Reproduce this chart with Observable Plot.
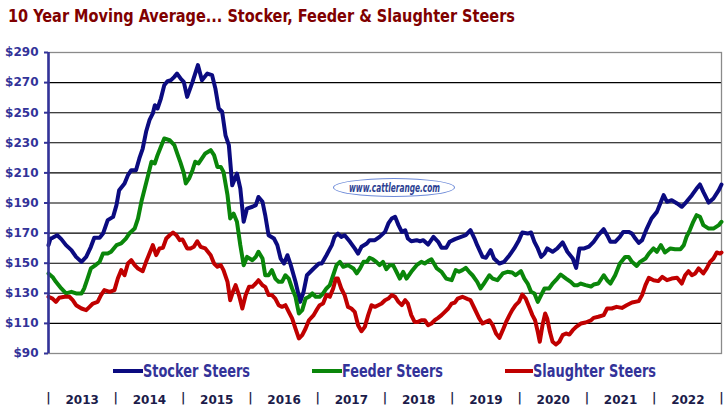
<!DOCTYPE html>
<html><head><meta charset="utf-8">
<script src="https://cdn.jsdelivr.net/npm/d3@7"></script>
<script src="https://cdn.jsdelivr.net/npm/@observablehq/plot@0.6"></script>
<style>
body{margin:0;background:#fff;}
#wrap{position:relative;width:727px;height:413px;overflow:hidden;background:#fff;}
#chart{position:absolute;left:0;top:0;}
.narrow{font-family:"Liberation Sans Narrow","Arial Narrow","DejaVu Sans Condensed","Liberation Sans",sans-serif;font-weight:bold;white-space:nowrap;line-height:1;}
#title{position:absolute;left:8px;top:8px;font-size:17px;color:#800000;transform-origin:left center;}
.legtxt{position:absolute;top:362px;font-size:18px;color:#333399;transform-origin:left center;}
.sw{position:absolute;top:369px;height:4px;}
#logo{position:absolute;left:333px;top:178px;width:120px;height:17px;border:1.5px solid #6d8ad8;border-radius:50%;background:#fff;}
#logotxt{position:absolute;top:181px;font-size:13px;font-style:italic;color:#2c3f92;transform-origin:left center;}
</style>
</head><body>
<div id="wrap">
  <div id="chart"></div>
  <div id="title" class="narrow">10 Year Moving Average... Stocker, Feeder &amp; Slaughter Steers</div>
  <div id="logo"></div>
  <div id="logotxt" class="narrow">www.cattlerange.com</div>
  <div id="legend"></div>
</div>
<script>
const seriesNames = ["Stocker Steers", "Feeder Steers", "Slaughter Steers"];
const seriesColors = ["#0b0b80", "#0a860a", "#c00000"];
const yTicks = [90, 110, 130, 150, 170, 190, 210, 230, 250, 270, 290];
const yearLabels = [2013, 2014, 2015, 2016, 2017, 2018, 2019, 2020, 2021, 2022];
const yearBounds = [2013, 2014, 2015, 2016, 2017, 2018, 2019, 2020, 2021, 2022, 2023];

const stocker = [[2013.00,162],[2013.03,166.4],[2013.06,166.9],[2013.13,168.6],[2013.19,166],[2013.26,162],[2013.34,158.7],[2013.41,154.2],[2013.49,150.9],[2013.56,154.2],[2013.63,160.9],[2013.68,166.9],[2013.76,166.9],[2013.81,169.7],[2013.88,178.6],[2013.96,180.8],[2014.01,188.6],[2014.05,198.5],[2014.13,203],[2014.18,208.5],[2014.23,211.8],[2014.30,211.8],[2014.35,219.6],[2014.40,226.2],[2014.45,237.3],[2014.50,245],[2014.55,249.5],[2014.58,255],[2014.62,252.8],[2014.67,259.4],[2014.72,268.3],[2014.77,271],[2014.82,271.6],[2014.87,273.8],[2014.91,276],[2014.97,272.3],[2015.01,270.5],[2015.06,260.5],[2015.14,270.5],[2015.22,281.6],[2015.28,271.6],[2015.36,276],[2015.43,275],[2015.48,266],[2015.53,252.8],[2015.58,250.6],[2015.63,235],[2015.68,228.4],[2015.73,201.8],[2015.75,204],[2015.80,209.6],[2015.85,199.6],[2015.90,177.5],[2015.95,186.3],[2016.03,187.5],[2016.08,188.6],[2016.12,194],[2016.18,190.8],[2016.22,182],[2016.27,168.6],[2016.35,166.4],[2016.40,162],[2016.45,153],[2016.50,149.8],[2016.55,155.3],[2016.60,148.7],[2016.67,137.7],[2016.74,124.3],[2016.79,131],[2016.84,142],[2016.94,146.5],[2017.02,149.8],[2017.06,149.8],[2017.13,155.3],[2017.21,162],[2017.25,167.5],[2017.30,169.7],[2017.35,167.5],[2017.40,168.6],[2017.48,164.2],[2017.55,159.8],[2017.60,156.4],[2017.65,160.9],[2017.73,163.1],[2017.77,165.3],[2017.85,165.3],[2017.92,167.5],[2018.00,170.8],[2018.05,176.4],[2018.10,179.7],[2018.15,180.8],[2018.20,175.3],[2018.25,170.8],[2018.30,171.9],[2018.34,166.4],[2018.39,164.6],[2018.47,165.3],[2018.52,164.6],[2018.57,165.3],[2018.64,162.4],[2018.72,167.5],[2018.79,164.2],[2018.84,160.2],[2018.91,160.2],[2018.96,164.2],[2019.04,166],[2019.13,167.5],[2019.20,168.6],[2019.27,171.9],[2019.33,166.4],[2019.37,162],[2019.45,154.2],[2019.50,153.6],[2019.57,158.7],[2019.62,153.1],[2019.70,149.8],[2019.77,150.9],[2019.85,155.3],[2019.92,159.8],[2019.99,165.3],[2020.04,170.4],[2020.12,169.7],[2020.17,170.4],[2020.22,164.2],[2020.27,159.8],[2020.32,154.2],[2020.37,156.4],[2020.41,159.8],[2020.49,157.6],[2020.56,159.8],[2020.64,163.8],[2020.71,157.6],[2020.79,153.1],[2020.84,146.9],[2020.89,159.8],[2020.96,159.8],[2021.03,161],[2021.10,164.2],[2021.17,168.6],[2021.25,172.6],[2021.30,168.6],[2021.35,164.2],[2021.42,164.2],[2021.49,167.5],[2021.54,170.8],[2021.62,170.8],[2021.67,169.7],[2021.72,166.4],[2021.77,163.5],[2021.82,165.3],[2021.89,173],[2021.96,179.7],[2022.04,184.1],[2022.09,189.7],[2022.14,195.2],[2022.19,190.8],[2022.26,191.9],[2022.34,189.7],[2022.41,187.5],[2022.48,190.8],[2022.56,195.2],[2022.63,199.6],[2022.68,202.3],[2022.73,197.4],[2022.81,190.3],[2022.88,193],[2022.96,198.5],[2023.00,202.3]];

const feeder = [[2013.00,143.2],[2013.06,140.9],[2013.11,137.6],[2013.19,133.2],[2013.26,129.9],[2013.34,131],[2013.41,129.9],[2013.49,129.9],[2013.53,133.2],[2013.58,139.8],[2013.63,146.5],[2013.71,149.1],[2013.76,150.9],[2013.81,156.4],[2013.88,156.4],[2013.93,157.6],[2014.01,162],[2014.08,163.1],[2014.15,166.4],[2014.20,169.7],[2014.28,173],[2014.33,179.7],[2014.38,190.8],[2014.43,199.6],[2014.48,208.5],[2014.53,217.4],[2014.58,216.3],[2014.62,221.8],[2014.67,227.3],[2014.72,232.9],[2014.80,231.7],[2014.87,228.4],[2014.92,222],[2014.96,217],[2015.01,210],[2015.04,203],[2015.09,206.3],[2015.14,211.8],[2015.18,217.4],[2015.23,216.3],[2015.28,219.6],[2015.33,222.9],[2015.41,225.1],[2015.46,221.8],[2015.51,214],[2015.56,214],[2015.60,210.7],[2015.66,195.2],[2015.70,179.7],[2015.75,183],[2015.80,177.5],[2015.85,162],[2015.90,148.7],[2015.95,154.2],[2016.03,152],[2016.08,154.2],[2016.12,157.6],[2016.18,153.1],[2016.22,142],[2016.27,142],[2016.32,145.4],[2016.37,139.8],[2016.42,137.6],[2016.47,137.6],[2016.52,142],[2016.57,139.8],[2016.62,133.2],[2016.67,127.7],[2016.72,116.6],[2016.77,118.8],[2016.82,126.5],[2016.87,127.7],[2016.92,129.9],[2016.97,127.7],[2017.03,127.7],[2017.08,129.9],[2017.13,133.2],[2017.18,135.4],[2017.23,142],[2017.28,148.7],[2017.33,150.9],[2017.38,147.6],[2017.45,148.7],[2017.53,146.5],[2017.58,143.2],[2017.63,146.5],[2017.68,150.9],[2017.73,150.9],[2017.77,153.6],[2017.82,152.6],[2017.87,150.9],[2017.92,148.7],[2017.97,150.9],[2018.02,146],[2018.07,148.7],[2018.12,148.7],[2018.17,144.3],[2018.22,139.8],[2018.27,144.3],[2018.32,139.8],[2018.39,144.3],[2018.47,148.7],[2018.54,150.9],[2018.59,149.8],[2018.64,151.4],[2018.69,152.6],[2018.77,146.5],[2018.84,144.3],[2018.91,139.8],[2018.99,138.7],[2019.05,145.4],[2019.10,144.3],[2019.15,145.4],[2019.20,146.9],[2019.25,144.3],[2019.30,142],[2019.37,137.6],[2019.42,133.2],[2019.47,136.5],[2019.55,142],[2019.60,139.8],[2019.67,138.7],[2019.75,143.2],[2019.82,144.3],[2019.89,143.8],[2019.94,142],[2020.02,144.7],[2020.07,139.8],[2020.12,136.5],[2020.17,131],[2020.22,129.9],[2020.27,124.3],[2020.32,128.8],[2020.37,133.2],[2020.44,133.2],[2020.49,136.5],[2020.56,139.8],[2020.61,142.5],[2020.69,139.8],[2020.76,137.6],[2020.81,135.4],[2020.86,135.4],[2020.91,136.5],[2020.98,135.4],[2021.06,134.5],[2021.10,135.8],[2021.17,136.5],[2021.25,142],[2021.30,138.7],[2021.35,136.5],[2021.42,142],[2021.49,149.8],[2021.57,154.2],[2021.62,154.2],[2021.67,150.9],[2021.74,148.2],[2021.79,150.9],[2021.87,153.1],[2021.92,156.4],[2021.99,159.8],[2022.04,157.6],[2022.10,162],[2022.16,157.1],[2022.24,159.8],[2022.31,159.3],[2022.39,159.3],[2022.44,162],[2022.48,167.5],[2022.53,172],[2022.58,177.5],[2022.63,181.9],[2022.68,180.8],[2022.73,175.3],[2022.81,173],[2022.88,173],[2022.96,175.3],[2023.00,177.5]];

const slaughter = [[2013.00,127.7],[2013.06,126.5],[2013.11,124.3],[2013.16,127],[2013.24,127.7],[2013.31,127.7],[2013.36,125.4],[2013.41,122.1],[2013.49,119.9],[2013.56,118.8],[2013.61,121],[2013.66,123.2],[2013.73,124.3],[2013.78,128.8],[2013.83,132.1],[2013.91,131],[2013.98,132.1],[2014.03,139.8],[2014.08,145.4],[2014.13,142],[2014.18,149.8],[2014.23,152],[2014.28,148.7],[2014.33,146.5],[2014.40,144.7],[2014.45,150.9],[2014.50,156.4],[2014.55,162],[2014.60,155.3],[2014.65,159.8],[2014.70,160.2],[2014.75,166.4],[2014.80,168.6],[2014.85,170.4],[2014.90,168.6],[2014.95,165.3],[2014.99,165.8],[2015.01,164.2],[2015.06,159.8],[2015.11,159.8],[2015.16,160.9],[2015.21,164.6],[2015.26,160.9],[2015.33,159.8],[2015.41,155.3],[2015.46,149.8],[2015.51,147.6],[2015.56,148.7],[2015.60,145.4],[2015.66,137.6],[2015.70,125.4],[2015.74,131],[2015.78,135.4],[2015.83,128.8],[2015.88,119.9],[2015.93,128.8],[2015.98,134.3],[2016.03,134.3],[2016.08,136.5],[2016.12,138.7],[2016.18,135.4],[2016.22,134.3],[2016.27,128.8],[2016.32,128.8],[2016.37,126.5],[2016.42,122.1],[2016.47,121],[2016.52,122.1],[2016.57,117.7],[2016.62,113.3],[2016.67,106.6],[2016.72,100],[2016.77,102.2],[2016.82,106.6],[2016.87,112.1],[2016.94,115.5],[2016.99,119.4],[2017.03,122.1],[2017.08,123.2],[2017.13,128.8],[2017.18,127.7],[2017.23,133.2],[2017.27,139.8],[2017.30,139.8],[2017.35,133.2],[2017.40,128.8],[2017.45,121],[2017.50,119.9],[2017.55,117.7],[2017.60,108.8],[2017.65,104.8],[2017.70,107.7],[2017.75,115.5],[2017.80,122.1],[2017.85,121],[2017.90,122.1],[2017.95,123.2],[2018.00,125.4],[2018.05,126.5],[2018.10,128.8],[2018.15,127.7],[2018.20,124.3],[2018.25,122.1],[2018.30,125.4],[2018.34,123.2],[2018.39,115.5],[2018.44,111],[2018.49,111],[2018.54,112.1],[2018.59,112.1],[2018.64,108.8],[2018.69,109.9],[2018.74,112.1],[2018.79,113.7],[2018.84,115.5],[2018.89,117.7],[2018.94,119.9],[2018.99,123.2],[2019.04,123.9],[2019.08,126.5],[2019.15,127.7],[2019.23,126.1],[2019.27,125.4],[2019.33,119.9],[2019.40,113.3],[2019.45,109.9],[2019.50,111],[2019.55,112.1],[2019.60,108.8],[2019.65,103.3],[2019.70,100.4],[2019.75,105.5],[2019.80,111],[2019.85,115.5],[2019.89,118.8],[2019.94,122.1],[2019.99,124.3],[2020.04,129.2],[2020.09,126.5],[2020.14,121],[2020.19,115.5],[2020.23,112.1],[2020.27,104.4],[2020.30,97.8],[2020.34,108.8],[2020.38,116.6],[2020.41,113.3],[2020.45,104.4],[2020.49,97.8],[2020.54,96],[2020.59,97.8],[2020.64,102.2],[2020.69,103.3],[2020.74,102.6],[2020.79,105.5],[2020.84,107.7],[2020.91,109.9],[2020.98,110.6],[2021.06,112],[2021.10,113.7],[2021.17,114.4],[2021.25,115.5],[2021.30,119.9],[2021.37,119.9],[2021.44,121],[2021.52,120.3],[2021.59,122.1],[2021.67,123.9],[2021.77,124.8],[2021.82,128.8],[2021.87,135.4],[2021.92,140.3],[2021.99,138.7],[2022.06,138.1],[2022.12,140.9],[2022.19,138.7],[2022.26,139.8],[2022.34,140.3],[2022.41,136.5],[2022.46,142],[2022.51,144.7],[2022.56,142],[2022.61,143.2],[2022.66,146.5],[2022.73,143.2],[2022.78,146.5],[2022.83,150.9],[2022.88,153.1],[2022.93,157.1],[2022.98,156.4],[2023.00,157.1]];

const rows = [stocker, feeder, slaughter].flatMap((arr, i) =>
  arr.map(([t, v]) => ({t, v, s: seriesNames[i]})));

const plot = Plot.plot({
  width: 727, height: 413,
  marginLeft: 48, marginRight: 6, marginTop: 52, marginBottom: 60,
  style: {background: "transparent", fontFamily: "'DejaVu Sans', Verdana, sans-serif"},
  x: {domain: [2013, 2023]},
  y: {domain: [90, 290]},
  color: {domain: seriesNames, range: seriesColors},
  marks: [
    Plot.ruleY(yTicks.slice(1, -1), {stroke: "#000", strokeWidth: 1.1}),
    Plot.frame({stroke: "#8a8a8a", strokeWidth: 1.3}),
    Plot.line(rows, {x: "t", y: "v", z: "s", stroke: "s", strokeWidth: 4, strokeLinejoin: "round", strokeLinecap: "round"}),
    Plot.ruleX([2013], {stroke: "#333399", strokeWidth: 2.6}),
    Plot.axisY({ticks: yTicks, tickFormat: d => "$" + d, tickSize: 4, tickPadding: 6, stroke: "#333399", strokeWidth: 2, fill: "#333399", fontWeight: "bold", fontSize: 12, label: null}),
    Plot.axisX({ticks: yearLabels.map(y => y + 0.5), tickFormat: d => String(Math.floor(d)), tickSize: 0, tickPadding: 42, fill: "#1c1c4a", fontWeight: "bold", fontSize: 12, label: null}),
    Plot.text(yearBounds, {x: d => d, text: () => "|", frameAnchor: "bottom", dy: 48, fill: "#1c1c4a", fontSize: 12, fontWeight: "bold"})
  ]
});
document.getElementById("chart").appendChild(plot);

// HTML legend built from series names / colours
const legend = document.getElementById("legend");
const legPos = [[113, 143, 107], [312, 342, 101], [505, 533, 123]]; // swatch left, text left, text width
seriesNames.forEach((name, i) => {
  const sw = document.createElement("div");
  sw.className = "sw";
  sw.style.left = legPos[i][0] + "px";
  sw.style.width = (legPos[i][1] - legPos[i][0]) + "px";
  sw.style.background = seriesColors[i];
  legend.appendChild(sw);
  const tx = document.createElement("div");
  tx.className = "legtxt narrow";
  tx.style.left = legPos[i][1] + "px";
  tx.textContent = name;
  legend.appendChild(tx);
  fit(tx, legPos[i][2]);
});

function fit(el, w) {
  const r = el.getBoundingClientRect().width;
  if (r > 0) el.style.transform = `scaleX(${w / r})`;
}
fit(document.getElementById("title"), 507);
const lt = document.getElementById("logotxt");
lt.style.left = "349px";
fit(lt, 91);
</script>
</body></html>
